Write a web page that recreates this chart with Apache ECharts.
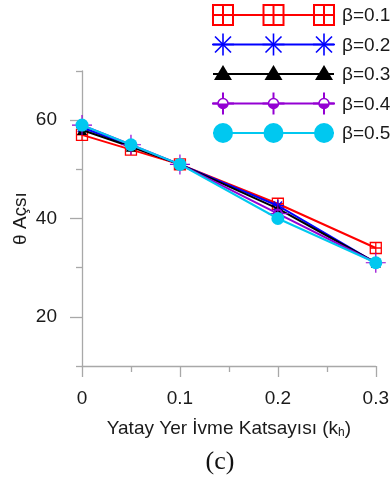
<!DOCTYPE html>
<html>
<head>
<meta charset="utf-8">
<script src="https://cdn.jsdelivr.net/npm/echarts@6/dist/echarts.min.js"></script>
<style>
  html, body { margin: 0; padding: 0; background: #fff; }
  #chart { width: 392px; height: 483px; }
</style>
</head>
<body>
<div id="chart"></div>
<script>
// Horizontal ground acceleration coefficient (kh)
const kh = [0, 0.05, 0.1, 0.2, 0.3];

// θ angle for each β
const beta01 = [57, 54, 51, 43, 34];
const beta02 = [58.5, 54.8, 51, 42.6, 31];
const beta03 = [58, 54.6, 51, 42, 31];
const beta04 = [59, 55, 51, 41, 31];
const beta05 = [59, 55, 51, 40, 31];

const seriesNames = ['β=0.1', 'β=0.2', 'β=0.3', 'β=0.4', 'β=0.5'];

// Tick positions
const xMajorTicks = [0, 0.1, 0.2, 0.3];
const xMinorTicks = [0.05, 0.15, 0.25];
const yMajorTicks = [20, 40, 60];
const yMinorTicks = [10, 30, 50, 70];

const FONT = 'Liberation Sans, Arial, sans-serif';
const AXIS_GREY = '#a8a8a8';
const TEXT = '#1a1a1a';

const RED = '#ff0000', BLUE = '#0000ff', BLACK = '#000000', PURPLE = '#9400d3', CYAN = '#00c8f0';

// Marker outlines
const boxGrid = 'path://M0,0H10V10H0Z M5,0V10 M0,5H10';
const asterisk = 'path://M5,0V10 M0,5H10 M1.5,1.5L8.5,8.5 M8.5,1.5L1.5,8.5';
const crossCircle = 'path://M10,0V20 M0,10H20 M5.5,10A4.5,4.5 0 0 0 14.5,10Z M5.5,10A4.5,4.5 0 0 1 14.5,10L13.6,10A3.6,3.6 0 0 0 6.4,10Z';

function pairs(ys) { return kh.map((x, i) => [x, ys[i]]); }

const seriesDefs = [
  { data: beta01, color: RED, symbol: boxGrid, size: 11, fill: 'rgba(0,0,0,0)', border: 1.3 },
  { data: beta02, color: BLUE, symbol: asterisk, size: 12, fill: 'rgba(0,0,0,0)', border: 1.3 },
  { data: beta03, color: BLACK, symbol: 'triangle', size: 10, fill: BLACK, border: 0 },
  { data: beta04, color: PURPLE, symbol: crossCircle, size: 20, fill: PURPLE, border: 1.2 },
  { data: beta05, color: CYAN, symbol: 'circle', size: 13, fill: CYAN, border: 0 }
];

const series = seriesDefs.map((d, i) => ({
  name: seriesNames[i],
  type: 'line',
  xAxisIndex: 0,
  yAxisIndex: 0,
  data: pairs(d.data),
  symbol: d.symbol,
  symbolSize: d.size,
  showAllSymbol: true,
  lineStyle: { color: d.color, width: 2 },
  itemStyle: { color: d.fill, borderColor: d.color, borderWidth: d.border },
  z: 2 + i,
  animation: false,
  silent: true
}));

// Legend drawn as a line with three markers per entry
const LEG_X0 = 213, LEG_X1 = 334, LEG_MARKS = [223, 273.5, 324], LEG_TEXT_X = 342;
const LEG_Y0 = 15, LEG_DY = 29.5;

function legendMarker(kind, cx, cy) {
  const els = [];
  if (kind === 0) {
    const s = 10;
    els.push({ type: 'rect', shape: { x: cx - s, y: cy - s, width: 2 * s, height: 2 * s }, style: { fill: '#fff', stroke: RED, lineWidth: 2 } });
    els.push({ type: 'line', shape: { x1: cx, y1: cy - s, x2: cx, y2: cy + s }, style: { stroke: RED, lineWidth: 2 } });
    els.push({ type: 'line', shape: { x1: cx - s, y1: cy, x2: cx + s, y2: cy }, style: { stroke: RED, lineWidth: 2 } });
  } else if (kind === 1) {
    const s = 11, d = 8;
    els.push({ type: 'line', shape: { x1: cx, y1: cy - s, x2: cx, y2: cy + s }, style: { stroke: BLUE, lineWidth: 1.6 } });
    els.push({ type: 'line', shape: { x1: cx - d, y1: cy - d, x2: cx + d, y2: cy + d }, style: { stroke: BLUE, lineWidth: 1.6 } });
    els.push({ type: 'line', shape: { x1: cx + d, y1: cy - d, x2: cx - d, y2: cy + d }, style: { stroke: BLUE, lineWidth: 1.6 } });
    els.push({ type: 'line', shape: { x1: cx - s, y1: cy, x2: cx + s, y2: cy }, style: { stroke: BLUE, lineWidth: 1.6 } });
  } else if (kind === 2) {
    els.push({ type: 'polygon', shape: { points: [[cx, cy - 9], [cx + 9, cy + 6], [cx - 9, cy + 6]] }, style: { fill: BLACK } });
  } else if (kind === 3) {
    const s = 11;
    els.push({ type: 'line', shape: { x1: cx, y1: cy - s, x2: cx, y2: cy + s }, style: { stroke: PURPLE, lineWidth: 2 } });
    els.push({ type: 'line', shape: { x1: cx - s, y1: cy, x2: cx + s, y2: cy }, style: { stroke: PURPLE, lineWidth: 2 } });
    els.push({ type: 'circle', shape: { cx: cx, cy: cy, r: 5 }, style: { fill: '#fff', stroke: PURPLE, lineWidth: 1.5 } });
    els.push({ type: 'sector', shape: { cx: cx, cy: cy, r: 5, r0: 0, startAngle: 0, endAngle: Math.PI, clockwise: true }, style: { fill: PURPLE } });
  } else {
    els.push({ type: 'circle', shape: { cx: cx, cy: cy, r: 10 }, style: { fill: CYAN } });
  }
  return els;
}

const legendColors = [RED, BLUE, BLACK, PURPLE, CYAN];
const graphics = [];
seriesNames.forEach((name, i) => {
  const cy = LEG_Y0 + i * LEG_DY;
  graphics.push({ type: 'line', z: 10, shape: { x1: LEG_X0, y1: cy, x2: LEG_X1, y2: cy }, style: { stroke: legendColors[i], lineWidth: 2 } });
  LEG_MARKS.forEach(mx => legendMarker(i, mx, cy).forEach(e => { e.z = 11; graphics.push(e); }));
  graphics.push({ type: 'text', z: 11, x: LEG_TEXT_X, y: cy + 1, style: { text: name, font: '19px ' + FONT, fill: TEXT, verticalAlign: 'middle', align: 'left' } });
});

// Panel caption
graphics.push({ type: 'text', x: 220, y: 462, style: { text: '(c)', font: '26px "Liberation Serif", "Times New Roman", serif', fill: '#111', align: 'center', verticalAlign: 'middle' } });

const axisLineStyle = { color: AXIS_GREY, width: 1.3 };

const option = {
  animation: false,
  backgroundColor: '#fff',
  grid: { left: 82, right: 14.3, top: 71, bottom: 117, containLabel: false },
  xAxis: [
    {
      type: 'value', min: 0, max: 0.3, position: 'bottom',
      name: 'Yatay Yer İvme Katsayısı (k{sub|h})',
      nameLocation: 'middle', nameGap: 52, nameMoveOverlap: false,
      nameTextStyle: {
        fontFamily: FONT, fontSize: 19, color: TEXT,
        rich: { sub: { fontFamily: FONT, fontSize: 12, color: TEXT, verticalAlign: 'bottom', padding: [9, 0, 0, 0] } }
      },
      axisLine: { show: true, onZero: false, lineStyle: axisLineStyle },
      axisTick: { show: true, length: 11, customValues: xMajorTicks, lineStyle: axisLineStyle },
      axisLabel: { show: true, customValues: xMajorTicks, margin: 23, fontFamily: FONT, fontSize: 19, color: TEXT },
      splitLine: { show: false }
    },
    {
      type: 'value', min: 0, max: 0.3, position: 'bottom',
      axisLine: { show: false },
      axisTick: { show: true, length: 6, customValues: xMinorTicks, lineStyle: axisLineStyle },
      axisLabel: { show: false },
      splitLine: { show: false }
    }
  ],
  yAxis: [
    {
      type: 'value', min: 10, max: 70, position: 'left',
      name: 'θ Açsı', nameLocation: 'middle', nameGap: 52, nameRotate: 90, nameMoveOverlap: false,
      nameTextStyle: { fontFamily: FONT, fontSize: 19, color: TEXT },
      axisLine: { show: true, onZero: false, lineStyle: axisLineStyle },
      axisTick: { show: true, length: 12, customValues: yMajorTicks, lineStyle: axisLineStyle },
      axisLabel: { show: true, customValues: yMajorTicks, margin: 25, fontFamily: FONT, fontSize: 19, color: TEXT },
      splitLine: { show: false }
    },
    {
      type: 'value', min: 10, max: 70, position: 'left',
      axisLine: { show: false },
      axisTick: { show: true, length: 6, customValues: yMinorTicks, lineStyle: axisLineStyle },
      axisLabel: { show: false },
      splitLine: { show: false }
    }
  ],
  series: series,
  graphic: graphics
};

const chart = echarts.init(document.getElementById('chart'), null, { renderer: 'canvas', devicePixelRatio: 1 });
chart.setOption(option);
</script>
</body>
</html>
